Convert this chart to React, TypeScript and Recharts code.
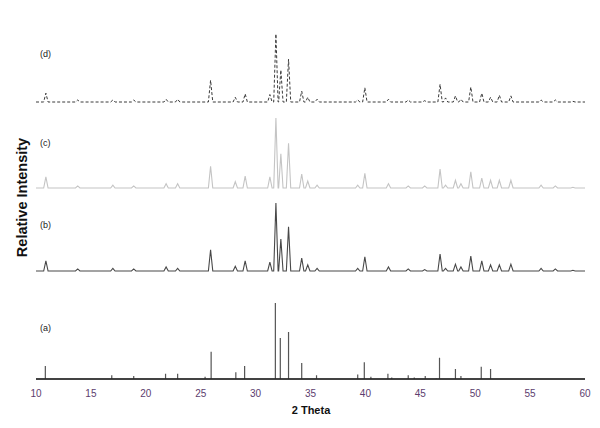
import { LineChart, Line, XAxis, YAxis } from "recharts";

// 2θ tick labels
const TICKS = [10, 15, 20, 25, 30, 35, 40, 45, 50, 55, 60];

// (a) reference pattern, stick positions and relative intensities (%)
const stickPos = [10.85, 16.9, 18.9, 21.8, 22.9, 25.4, 25.95, 28.2, 29.0, 31.8, 32.25, 33.0, 34.2, 35.55, 39.3, 39.9, 40.5, 42.05, 42.4, 43.9, 44.45, 45.45, 46.45, 46.75, 48.2, 48.7, 50.55, 51.4];
const stickInt = [17, 5, 4, 7, 7, 3, 36, 9, 17, 100, 54, 62, 21, 5, 6, 22, 3, 7, 2, 5, 2, 4, 1, 28, 13, 4, 16, 13];

// measured patterns (b), (c), (d): shared peak positions
const peakPos = [10.9, 13.8, 17.0, 18.9, 21.85, 22.9, 25.9, 28.15, 29.05, 31.3, 31.85, 32.3, 33.0, 34.2, 34.75, 35.6, 39.3, 39.95, 42.1, 43.9, 45.4, 46.8, 47.3, 48.2, 48.7, 49.6, 50.6, 51.4, 52.2, 53.25, 56.0, 57.3, 58.9];
const bInt = [15, 3, 4, 3, 6, 4, 31, 7, 15, 13, 100, 47, 65, 19, 9, 4, 4, 21, 6, 3, 2, 25, 4, 10, 6, 22, 15, 9, 9, 10, 4, 3, 1];
const cInt = [16, 3, 4, 3, 6, 6, 31, 9, 17, 16, 100, 49, 64, 20, 10, 4, 4, 21, 6, 3, 3, 27, 4, 11, 6, 23, 14, 11, 11, 11, 4, 3, 1];
const dInt = [13, 3, 3, 3, 4, 4, 32, 7, 12, 11, 100, 47, 63, 16, 7, 4, 3, 21, 4, 3, 2, 26, 6, 9, 4, 22, 13, 7, 10, 9, 3, 3, 1];

// stacking offsets and height scale per trace (y units)
const LAYOUT = {
  a: { offset: 0, scale: 0.76 },
  b: { offset: 108, scale: 0.68 },
  c: { offset: 191, scale: 0.7 },
  d: { offset: 277, scale: 0.68 },
};
const HALF_WIDTH = 0.2;

function sticks(pos: number[], ints: number[], offset: number, scale: number) {
  const pts: { x: number; y: number }[] = [{ x: 10, y: offset }];
  pos.forEach((p, i) => {
    pts.push({ x: p, y: offset });
    pts.push({ x: p, y: offset + ints[i] * scale });
    pts.push({ x: p, y: offset });
  });
  pts.push({ x: 60, y: offset });
  return pts;
}

function profile(pos: number[], ints: number[], offset: number, scale: number) {
  const pts: { x: number; y: number }[] = [{ x: 10, y: offset }];
  pos.forEach((p, i) => {
    pts.push({ x: p - HALF_WIDTH, y: offset });
    pts.push({ x: p, y: offset + ints[i] * scale });
    pts.push({ x: p + HALF_WIDTH, y: offset });
  });
  pts.push({ x: 60, y: offset });
  return pts;
}

const aData = sticks(stickPos, stickInt, LAYOUT.a.offset, LAYOUT.a.scale);
const bData = profile(peakPos, bInt, LAYOUT.b.offset, LAYOUT.b.scale);
const cData = profile(peakPos, cInt, LAYOUT.c.offset, LAYOUT.c.scale);
const dData = profile(peakPos, dInt, LAYOUT.d.offset, LAYOUT.d.scale);

const FONT = "'Liberation Sans', Arial, sans-serif";

const panelLabel = (text: string, top: number) => (
  <div
    style={{
      position: "absolute",
      left: 40,
      top,
      fontSize: 9,
      color: "#222",
      fontFamily: FONT,
      lineHeight: "10px",
    }}
  >
    {text}
  </div>
);

export default function App() {
  return (
    <div
      style={{
        position: "absolute",
        left: 0,
        top: 0,
        width: 600,
        height: 428,
        background: "#fff",
        fontFamily: FONT,
      }}
    >
      <LineChart
        width={600}
        height={428}
        margin={{ top: 20, right: 15, left: 36, bottom: 19 }}
      >
        <XAxis
          dataKey="x"
          type="number"
          domain={[10, 60]}
          ticks={TICKS}
          allowDataOverflow
          height={30}
          axisLine={{ stroke: "#222", strokeWidth: 1.5 }}
          tickLine={false}
          tickMargin={5}
          tick={{ fontSize: 10, fill: "#5c3d6e", fontFamily: FONT }}
        />
        <YAxis type="number" domain={[0, 359]} hide />
        <Line
          data={aData}
          dataKey="y"
          type="linear"
          stroke="#555"
          strokeWidth={1.2}
          dot={false}
          isAnimationActive={false}
        />
        <Line
          data={bData}
          dataKey="y"
          type="linear"
          stroke="#484848"
          strokeWidth={1.1}
          dot={false}
          isAnimationActive={false}
        />
        <Line
          data={cData}
          dataKey="y"
          type="linear"
          stroke="#c4c4c4"
          strokeWidth={1.1}
          dot={false}
          isAnimationActive={false}
        />
        <Line
          data={dData}
          dataKey="y"
          type="linear"
          stroke="#3a3a3a"
          strokeWidth={1}
          strokeDasharray="3 2"
          dot={false}
          isAnimationActive={false}
        />
      </LineChart>

      {panelLabel("(d)", 49)}
      {panelLabel("(c)", 138)}
      {panelLabel("(b)", 220)}
      {panelLabel("(a)", 323)}

      <div
        style={{
          position: "absolute",
          left: -78,
          top: 189,
          width: 200,
          textAlign: "center",
          transform: "rotate(-90deg)",
          transformOrigin: "center",
          fontSize: 14.5,
          fontWeight: "bold",
          color: "#111",
          lineHeight: "17px",
        }}
      >
        Relative Intensity
      </div>
      <div
        style={{
          position: "absolute",
          left: 261,
          top: 404,
          width: 100,
          textAlign: "center",
          fontSize: 11,
          fontWeight: "bold",
          color: "#111",
          lineHeight: "13px",
        }}
      >
        2 Theta
      </div>
    </div>
  );
}
